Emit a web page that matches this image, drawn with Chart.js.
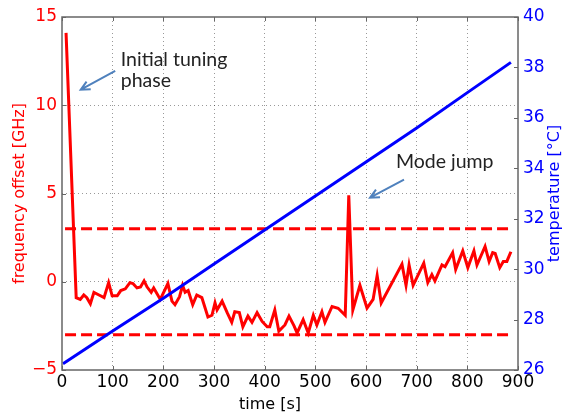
<!DOCTYPE html>
<html>
<head>
<meta charset="utf-8">
<script src="https://cdn.jsdelivr.net/npm/chart.js@4.4.1/dist/chart.umd.min.js"></script>
<style>html,body{margin:0;padding:0;background:#fff}</style>
</head>
<body>
<canvas id="chart" width="565" height="417"></canvas>
<script>
// frequency offset trace (time in s, offset in GHz)
const freqTime = [8, 28, 36, 43, 49, 56, 63, 73, 83, 92, 99, 109, 116, 125, 134, 140, 148, 155, 162, 168, 176, 181, 194, 209, 217, 223, 232, 238, 243, 249, 258, 266, 276, 288, 296, 302, 306, 316, 326, 335, 341, 350, 357, 367, 375, 385, 395, 405, 410, 420, 428, 440, 448, 458, 464, 476, 486, 496, 503, 513, 519, 533, 545, 559, 566, 574, 588, 602, 614, 622, 630, 671, 679, 685, 693, 714, 722, 730, 736, 750, 756, 771, 777, 791, 801, 813, 819, 835, 843, 850, 855, 864, 871, 878, 886];
const freqOffset = [14.1, -0.9, -1.0, -0.75, -0.9, -1.25, -0.6, -0.75, -0.9, -0.05, -0.8, -0.8, -0.5, -0.4, -0.05, -0.1, -0.35, -0.3, 0.05, -0.3, -0.6, -0.35, -1.0, -0.1, -1.1, -1.3, -0.85, -0.2, -0.6, -0.5, -1.3, -0.75, -0.9, -2.0, -1.9, -1.2, -1.6, -1.1, -1.75, -2.3, -1.7, -1.75, -2.55, -1.95, -2.3, -1.75, -2.25, -2.55, -2.55, -1.6, -2.8, -2.45, -1.95, -2.5, -2.9, -2.15, -2.9, -1.9, -2.45, -1.7, -2.3, -1.4, -1.5, -1.9, 4.9, -1.6, -0.2, -1.5, -1.0, 0.35, -1.2, 1.0, -0.2, 0.95, -0.2, 1.05, -0.05, 0.4, 0.05, 0.95, 0.85, 1.65, 0.7, 1.75, 0.8, 1.75, 0.95, 2.0, 1.15, 1.65, 1.6, 0.8, 1.15, 1.15, 1.7];

// temperature trace (time in s, °C)
const tempTime = [2, 100, 200, 300, 400, 500, 600, 700, 800, 886];
const temperature = [26.25, 27.55, 28.85, 30.2, 31.55, 32.9, 34.25, 35.6, 37.0, 38.2];

// tolerance band (GHz)
const limitTime = [6, 886];
const upperLimit = [3, 3];
const lowerLimit = [-3, -3];

// text notes and arrows, in data units (time, GHz)
const notes = [
  { text: 'Initial tuning', t: 116, f: 12.24 },
  { text: 'phase', t: 116, f: 11.05 },
  { text: 'Mode jump', t: 659, f: 6.46 }
];
const arrows = [
  { from: [105, 11.95], to: [37, 10.88] },
  { from: [675, 5.78], to: [608, 4.76] }
];

const pts = (xs, ys) => xs.map((x, i) => ({ x: x, y: ys[i] }));
const tickFont = { family: "'DejaVu Sans'", size: 17 };
const titleFont = { family: "'DejaVu Sans'", size: 16 };
const gridColor = 'rgba(0,0,0,0.4)';
const frameColor = '#666';

const extras = {
  id: 'extras',
  afterDatasetsDraw(chart) {
    const { ctx, chartArea: a, scales } = chart;
    const x = scales.x, y = scales.y, y1 = scales.y1;
    ctx.save();
    // frame
    ctx.strokeStyle = frameColor;
    ctx.lineWidth = 1.5;
    ctx.strokeRect(a.left, a.top, a.right - a.left, a.bottom - a.top);
    // inward tick marks
    ctx.lineWidth = 1;
    ctx.beginPath();
    x.ticks.forEach(t => {
      const px = Math.round(x.getPixelForValue(t.value)) + 0.5;
      ctx.moveTo(px, a.bottom); ctx.lineTo(px, a.bottom - 4);
      ctx.moveTo(px, a.top); ctx.lineTo(px, a.top + 4);
    });
    y.ticks.forEach(t => {
      const py = Math.round(y.getPixelForValue(t.value)) + 0.5;
      ctx.moveTo(a.left, py); ctx.lineTo(a.left + 4, py);
    });
    y1.ticks.forEach(t => {
      const py = Math.round(y1.getPixelForValue(t.value)) + 0.5;
      ctx.moveTo(a.right, py); ctx.lineTo(a.right - 4, py);
    });
    ctx.stroke();
    // arrows
    ctx.strokeStyle = '#4f81bd';
    ctx.lineWidth = 2;
    arrows.forEach(ar => {
      const x0 = x.getPixelForValue(ar.from[0]), y0 = y.getPixelForValue(ar.from[1]);
      const x1 = x.getPixelForValue(ar.to[0]), y1p = y.getPixelForValue(ar.to[1]);
      const ang = Math.atan2(y1p - y0, x1 - x0);
      ctx.beginPath();
      ctx.moveTo(x0, y0); ctx.lineTo(x1, y1p);
      ctx.moveTo(x1 - 10 * Math.cos(ang - 0.45), y1p - 10 * Math.sin(ang - 0.45));
      ctx.lineTo(x1, y1p);
      ctx.lineTo(x1 - 10 * Math.cos(ang + 0.45), y1p - 10 * Math.sin(ang + 0.45));
      ctx.stroke();
    });
    // notes
    ctx.fillStyle = '#222';
    ctx.font = "19.5px Lato";
    ctx.textBaseline = 'alphabetic';
    ctx.textAlign = 'left';
    notes.forEach(n => {
      ctx.fillText(n.text, x.getPixelForValue(n.t), y.getPixelForValue(n.f));
    });
    // axis titles not placed by the scales
    ctx.font = "16px 'DejaVu Sans'";
    ctx.textAlign = 'center';
    ctx.textBaseline = 'middle';
    ctx.fillStyle = '#000';
    ctx.fillText('time [s]', 270, 405);
    ctx.fillStyle = '#0000ff';
    ctx.translate(555, (a.top + a.bottom) / 2);
    ctx.rotate(-Math.PI / 2);
    ctx.fillText('temperature [°C]', 0, 0);
    ctx.restore();
  }
};

new Chart(document.getElementById('chart'), {
  type: 'line',
  data: {
    datasets: [
      { data: pts(tempTime, temperature), yAxisID: 'y1', borderColor: '#0000ff', borderWidth: 3, pointRadius: 0, tension: 0 },
      { data: pts(freqTime, freqOffset), yAxisID: 'y', borderColor: '#ff0000', borderWidth: 3, pointRadius: 0, tension: 0 },
      { data: pts(limitTime, upperLimit), yAxisID: 'y', borderColor: '#ff0000', borderWidth: 3, borderDash: [11, 5], pointRadius: 0 },
      { data: pts(limitTime, lowerLimit), yAxisID: 'y', borderColor: '#ff0000', borderWidth: 3, borderDash: [11, 5], pointRadius: 0 }
    ]
  },
  options: {
    responsive: false,
    animation: false,
    layout: { padding: { top: 17, left: 0, right: 0, bottom: 0 } },
    plugins: { legend: { display: false }, tooltip: { enabled: false } },
    scales: {
      x: {
        type: 'linear', min: 0, max: 900,
        ticks: { stepSize: 100, color: '#000', font: tickFont, padding: 2, maxRotation: 0, autoSkip: false },
        grid: { color: c => (c.tick.value === 0 || c.tick.value === 900) ? 'transparent' : gridColor, lineWidth: 1, drawTicks: false },
        border: { display: false, dash: [1, 3] },
        afterFit: s => { s.height = 47; }
      },
      y: {
        position: 'left', min: -5, max: 15,
        ticks: { stepSize: 5, color: '#ff0000', font: tickFont, padding: 5, callback: v => String(v).replace('-', '\u2212') },
        grid: { color: c => (c.tick.value === -5 || c.tick.value === 15) ? 'transparent' : gridColor, lineWidth: 1, drawTicks: false },
        border: { display: false, dash: [1, 3] },
        title: { display: true, text: 'frequency offset [GHz]', color: '#ff0000', font: titleFont, padding: { top: 10, bottom: 0 } },
        afterFit: s => { s.width = 62; }
      },
      y1: {
        position: 'right', min: 26, max: 40,
        ticks: { stepSize: 2, color: '#0000ff', font: tickFont, padding: 5 },
        grid: { display: false, drawTicks: false },
        border: { display: false },
        afterFit: s => { s.width = 47; }
      }
    }
  },
  plugins: [extras]
});
</script>
</body>
</html>
